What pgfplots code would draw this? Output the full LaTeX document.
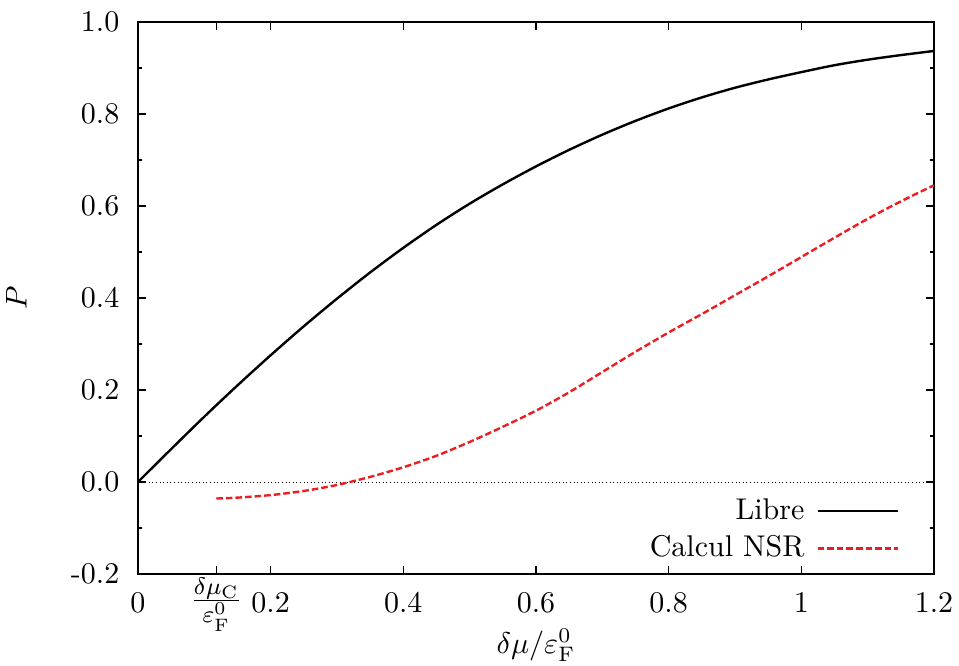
\documentclass[border=0pt]{standalone}
\usepackage{pgfplots}
\pgfplotsset{compat=1.18}
\definecolor{nsr}{RGB}{235,30,35}
\begin{document}
\begin{tikzpicture}
\useasboundingbox (-46pt,-30.67pt) rectangle (273.67pt,191.33pt);
\begin{axis}[
  at={(0,0)}, anchor=south west,
  width=265.33pt, height=184pt, scale only axis,
  xmin=0, xmax=1.2, ymin=-0.2, ymax=1.0,
  xtick={0,0.118,0.2,0.4,0.6,0.8,1,1.2},
  xticklabels={0,\raisebox{1.3pt}{$\frac{\mbox{\footnotesize$\delta\mu_{\mathrm{C}}$}}{\mbox{\footnotesize$\varepsilon_{\mathrm{F}}^{0}$}}$},0.2,0.4,0.6,0.8,1,1.2},
  ytick={-0.2,0,0.2,0.4,0.6,0.8,1.0},
  yticklabels={-0.2,0.0,0.2,0.4,0.6,0.8,1.0},
  minor ytick={-0.1,0.1,0.3,0.5,0.7,0.9},
  major tick length=2.8pt, minor tick length=1.4pt,
  tick style={black, line width=0.5pt},
  axis line style={line width=0.6pt},
  xticklabel style={anchor=base, yshift=-12.7pt},
  yticklabel style={anchor=east, xshift=-2.7pt},
  xlabel={$\delta\mu/\varepsilon_{\mathrm{F}}^{0}$},
  ylabel={$P$},
  xlabel style={at={([yshift=-26.5pt]axis description cs:0.5,0)}, anchor=base},
  ylabel style={at={([xshift=-40.5pt]axis description cs:0,0.5)}, anchor=center},
  legend plot pos=right,
  legend cell align=right,
  legend style={draw=none, fill=none, at={(axis description cs:0.968,0.0)}, anchor=south east, column sep=2pt},
  legend image code/.code={\draw[#1] (0pt,0pt) -- (26.7pt,0pt);},
]
\addplot[black, line width=0.3pt, dash pattern=on 0.3pt off 0.9pt, forget plot] coordinates {(0,0) (1.2,0)};
\addplot[black, line width=0.8pt, smooth] coordinates {
(0,0) (0.05,0.0715) (0.1,0.142) (0.15,0.21) (0.2,0.2755) (0.25,0.3385) (0.3,0.3985)
(0.35,0.4555) (0.4,0.509) (0.45,0.559) (0.5,0.605) (0.55,0.647) (0.6,0.686)
(0.65,0.722) (0.7,0.755) (0.75,0.785) (0.8,0.812) (0.85,0.836) (0.9,0.857)
(0.95,0.875) (1.0,0.891) (1.05,0.906) (1.1,0.918) (1.15,0.928) (1.2,0.937)};
\addlegendentry{Libre}
\addplot[nsr, line width=0.8pt, dash pattern=on 2.2pt off 1pt, smooth] coordinates {
(0.118,-0.036) (0.15,-0.034) (0.2,-0.0285) (0.25,-0.0195) (0.3,-0.0065)
(0.35,0.011) (0.4,0.032) (0.45,0.057) (0.5,0.087) (0.55,0.120) (0.6,0.155)
(0.65,0.195) (0.7,0.239) (0.75,0.283) (0.8,0.325) (0.85,0.365) (0.9,0.406)
(0.95,0.447) (1.0,0.489) (1.05,0.531) (1.1,0.572) (1.15,0.610) (1.2,0.645)};
\addlegendentry{Calcul NSR}
\end{axis}
\end{tikzpicture}
\end{document}
